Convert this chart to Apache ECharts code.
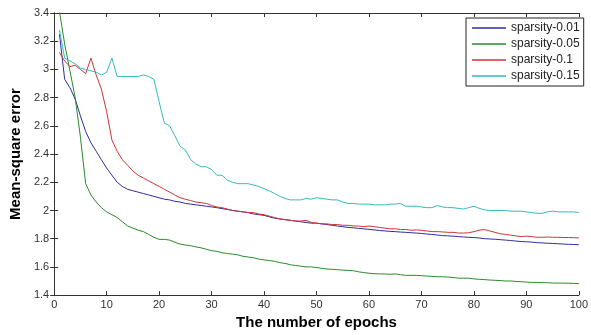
<!DOCTYPE html>
<html>
<head>
<meta charset="utf-8">
<script src="https://cdn.jsdelivr.net/npm/echarts@6/dist/echarts.min.js"></script>
<style>
  html, body { margin: 0; padding: 0; background: #fff; }
  #chart { width: 591px; height: 335px; }
</style>
</head>
<body>
<div id="chart"></div>
<script>
// Training epochs 1..100
const epochs = Array.from({ length: 100 }, (_, i) => i + 1);

const seriesNames = ['sparsity-0.01', 'sparsity-0.05', 'sparsity-0.1', 'sparsity-0.15'];

const mseSparsity001 = [
  3.25, 2.93, 2.87, 2.79, 2.67, 2.56, 2.48, 2.42, 2.36, 2.30,
  2.25, 2.20, 2.17, 2.15, 2.14, 2.13, 2.12, 2.11, 2.10, 2.09,
  2.08, 2.075, 2.065, 2.06, 2.05, 2.045, 2.04, 2.035, 2.03, 2.025,
  2.02, 2.013, 2.007, 2.0, 1.995, 1.99, 1.985, 1.975, 1.97, 1.965,
  1.955, 1.945, 1.94, 1.935, 1.93, 1.925, 1.92, 1.915, 1.91, 1.91,
  1.905, 1.90, 1.895, 1.89, 1.885, 1.88, 1.877, 1.873, 1.87, 1.866,
  1.862, 1.858, 1.855, 1.852, 1.85, 1.847, 1.845, 1.842, 1.84, 1.837,
  1.833, 1.83, 1.826, 1.822, 1.82, 1.818, 1.815, 1.812, 1.81, 1.808,
  1.805, 1.80, 1.798, 1.796, 1.793, 1.79, 1.787, 1.783, 1.78, 1.778,
  1.776, 1.772, 1.77, 1.768, 1.766, 1.764, 1.762, 1.76, 1.759, 1.757
];

const mseSparsity005 = [
  3.41, 3.18, 2.99, 2.80, 2.52, 2.19, 2.11, 2.06, 2.02, 1.99,
  1.97, 1.95, 1.92, 1.89, 1.875, 1.86, 1.85, 1.83, 1.81, 1.795,
  1.795, 1.79, 1.775, 1.762, 1.755, 1.75, 1.742, 1.735, 1.725, 1.715,
  1.71, 1.70, 1.695, 1.69, 1.685, 1.675, 1.67, 1.665, 1.655, 1.65,
  1.645, 1.64, 1.63, 1.625, 1.615, 1.61, 1.605, 1.60, 1.60, 1.595,
  1.59, 1.585, 1.583, 1.58, 1.577, 1.575, 1.573, 1.565, 1.56, 1.555,
  1.552, 1.55, 1.55, 1.548, 1.55, 1.545, 1.54, 1.54, 1.54, 1.538,
  1.535, 1.533, 1.53, 1.53, 1.528, 1.525, 1.52, 1.52, 1.52, 1.515,
  1.512, 1.51, 1.507, 1.505, 1.503, 1.50, 1.50, 1.497, 1.495, 1.492,
  1.49, 1.49, 1.488, 1.488, 1.486, 1.485, 1.485, 1.484, 1.483, 1.482
];

const mseSparsity01 = [
  3.12, 3.06, 3.02, 3.03, 3.00, 2.97, 3.08, 2.96, 2.86, 2.70,
  2.50, 2.42, 2.36, 2.32, 2.28, 2.25, 2.23, 2.21, 2.19, 2.17,
  2.15, 2.13, 2.11, 2.09, 2.08, 2.07, 2.06, 2.055, 2.05, 2.035,
  2.025, 2.02, 2.01, 2.0, 1.995, 1.99, 1.985, 1.985, 1.975, 1.97,
  1.96, 1.95, 1.94, 1.935, 1.93, 1.925, 1.925, 1.93, 1.915, 1.91,
  1.905, 1.905, 1.90, 1.90, 1.895, 1.895, 1.89, 1.89, 1.885, 1.89,
  1.885, 1.88, 1.875, 1.87, 1.87, 1.865, 1.865, 1.86, 1.862, 1.86,
  1.855, 1.85, 1.85, 1.848, 1.845, 1.845, 1.84, 1.84, 1.842, 1.85,
  1.86, 1.865, 1.855, 1.845, 1.835, 1.83, 1.825, 1.82, 1.815, 1.818,
  1.815, 1.81, 1.81, 1.812, 1.81, 1.81, 1.808, 1.808, 1.807, 1.805
];

const mseSparsity015 = [
  3.28, 3.08, 3.06, 3.04, 3.01, 3.00, 2.99, 2.98, 2.96, 2.98,
  3.08, 2.95, 2.95, 2.95, 2.95, 2.95, 2.96, 2.95, 2.93, 2.77,
  2.62, 2.60, 2.53, 2.455, 2.43, 2.36, 2.33, 2.31, 2.31, 2.29,
  2.25, 2.25, 2.215, 2.20, 2.19, 2.19, 2.19, 2.18, 2.17, 2.155,
  2.14, 2.12, 2.10, 2.085, 2.075, 2.075, 2.075, 2.085, 2.08, 2.09,
  2.085, 2.08, 2.075, 2.075, 2.06, 2.05, 2.05, 2.045, 2.045, 2.045,
  2.04, 2.04, 2.04, 2.045, 2.045, 2.05, 2.03, 2.03, 2.03, 2.025,
  2.02, 2.02, 2.035, 2.025, 2.02, 2.02, 2.015, 2.01, 2.02, 2.03,
  2.015, 2.005, 2.0, 2.0, 2.0, 2.0, 1.995, 1.995, 1.995, 1.99,
  1.985, 1.98, 1.98, 1.99, 1.995, 1.99, 1.99, 1.99, 1.99, 1.985
];

// Axis ranges and tick steps
const xRange = [0, 100], xStep = 10;
const yRange = [1.4, 3.4], yStep = 0.2;

const lineColors = ['#2e2e9c', '#2a8a2a', '#cf3434', '#34b9c2'];
const allValues = [mseSparsity001, mseSparsity005, mseSparsity01, mseSparsity015];

const chart = echarts.init(document.getElementById('chart'), null, { renderer: 'canvas' });

const axisLine = { show: true, lineStyle: { color: '#333', width: 1 } };
const tickLabelStyle = { color: '#333', fontSize: 11, fontFamily: 'Liberation Sans, Arial, sans-serif' };
const titleStyle = { color: '#000', fontSize: 15, fontWeight: 'bold', fontFamily: 'Liberation Sans, Arial, sans-serif' };
const fmtY = v => String(Number(v.toFixed(1)));

chart.setOption({
  animation: false,
  backgroundColor: '#fff',
  grid: { left: 49, right: 8, top: 13, bottom: 37 },
  legend: {
    data: seriesNames,
    orient: 'vertical',
    left: 466,
    top: 18,
    padding: [3, 4, 3, 6],
    itemGap: 2,
    itemWidth: 34,
    itemHeight: 1.5,
    icon: 'rect',
    backgroundColor: '#fff',
    borderColor: '#222',
    borderWidth: 1,
    borderRadius: 0,
    textStyle: { color: '#222', fontSize: 12, lineHeight: 14, fontFamily: 'Liberation Sans, Arial, sans-serif' }
  },
  xAxis: [
    {
      type: 'value', min: xRange[0], max: xRange[1], interval: xStep,
      name: 'The number of epochs', nameLocation: 'middle', nameGap: 18,
      nameTextStyle: titleStyle,
      axisLine, splitLine: { show: false },
      axisTick: { inside: true, length: 4, lineStyle: { color: '#333' } },
      axisLabel: Object.assign({ margin: 4 }, tickLabelStyle)
    },
    {
      type: 'value', position: 'top', min: xRange[0], max: xRange[1], interval: xStep,
      axisLine, splitLine: { show: false },
      axisTick: { inside: true, length: 4, lineStyle: { color: '#333' } },
      axisLabel: { show: false }
    }
  ],
  yAxis: [
    {
      type: 'value', min: yRange[0], max: yRange[1], interval: yStep,
      name: 'Mean-square error', nameLocation: 'middle', nameGap: 31, nameRotate: 90,
      nameTextStyle: titleStyle,
      axisLine, splitLine: { show: false },
      axisTick: { inside: true, length: 4, lineStyle: { color: '#333' } },
      axisLabel: Object.assign({ margin: 5, formatter: fmtY }, tickLabelStyle)
    },
    {
      type: 'value', position: 'right', min: yRange[0], max: yRange[1], interval: yStep,
      axisLine, splitLine: { show: false },
      axisTick: { inside: true, length: 4, lineStyle: { color: '#333' } },
      axisLabel: { show: false }
    }
  ],
  series: seriesNames.map((name, i) => ({
    name,
    type: 'line',
    xAxisIndex: 0,
    yAxisIndex: 0,
    data: epochs.map((e, j) => [e, allValues[i][j]]),
    showSymbol: false,
    symbol: 'none',
    clip: true,
    color: lineColors[i],
    lineStyle: { color: lineColors[i], width: 1 },
    z: 2 + i
  }))
});
</script>
</body>
</html>
